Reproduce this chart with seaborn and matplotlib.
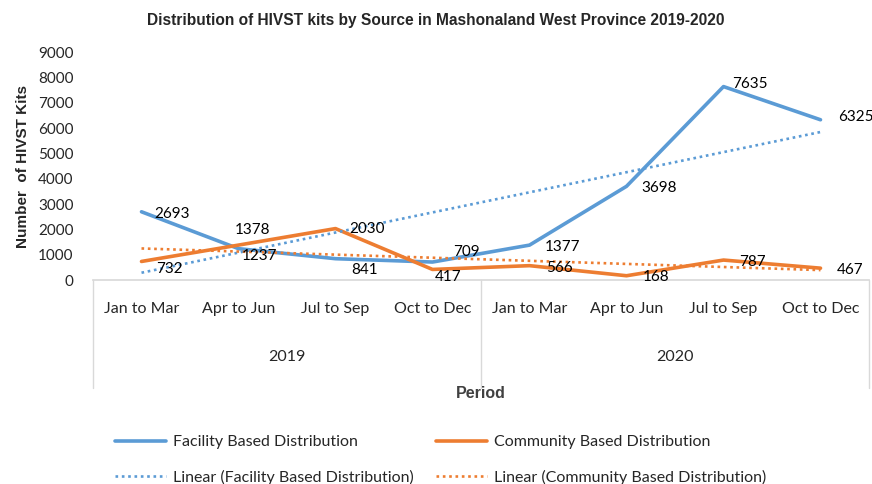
import numpy as np
import matplotlib.pyplot as plt
import seaborn as sns
from matplotlib.lines import Line2D

# ------------------------------------------------------------------
# Data
# ------------------------------------------------------------------
quarters = ["Jan to Mar", "Apr to Jun", "Jul to Sep", "Oct to Dec",
            "Jan to Mar", "Apr to Jun", "Jul to Sep", "Oct to Dec"]
years = ["2019", "2020"]
facility = [2693, 1237, 841, 709, 1377, 3698, 7635, 6325]
community = [732, 1378, 2030, 417, 566, 168, 787, 467]

# label offsets in pixels (layout only)
fac_offsets = [(31, -2), (21, -7), (29, -11), (34, 10), (33, -2), (33, -2), (26, 3), (35, 3)]
com_offsets = [(28, -8), (14, 15), (32, 0), (16, -8), (30, -2), (30, -1), (29, -2), (30, -2)]

BLUE = "#5B9BD5"
ORANGE = "#ED7D31"
GRID = "#D9D9D9"

sns.set_theme(style="white")
plt.rcParams["font.family"] = ["Lato", "DejaVu Sans"]

fig = plt.figure(figsize=(8.72, 4.84), dpi=100)
ax = fig.add_axes([93 / 872, 1 - 280 / 484, 776 / 872, 228 / 484])

x = np.arange(len(quarters))
sns.lineplot(x=x, y=facility, ax=ax, color=BLUE, linewidth=2.6, label="Facility Based Distribution")
sns.lineplot(x=x, y=community, ax=ax, color=ORANGE, linewidth=2.6, label="Community Based Distribution")

# Excel-style linear trendlines
fac_fit = np.polyval(np.polyfit(x, facility, 1), x)
com_fit = np.polyval(np.polyfit(x, community, 1), x)
ax.plot(x, fac_fit, color=BLUE, linewidth=1.9, linestyle=(0, (1, 1.4)),
        label="Linear (Facility Based Distribution)")
ax.plot(x, com_fit, color=ORANGE, linewidth=1.9, linestyle=(0, (1, 1.4)),
        label="Linear (Community Based Distribution)")

# data labels
for xi, v, off in zip(x, facility, fac_offsets):
    ax.annotate(str(v), (xi, v), xytext=off, textcoords="offset pixels",
                ha="center", va="center", fontsize=11, color="black")
for xi, v, off in zip(x, community, com_offsets):
    ax.annotate(str(v), (xi, v), xytext=off, textcoords="offset pixels",
                ha="center", va="center", fontsize=11, color="black")

ax.set_xlim(-0.5, 7.5)
ax.set_ylim(0, 9000)
ax.set_yticks(range(0, 9001, 1000))
ax.tick_params(axis="y", labelsize=11, length=0, pad=14)
ax.set_xticks([])
for s in ["left", "top", "right"]:
    ax.spines[s].set_visible(False)
ax.spines["bottom"].set_color(GRID)
ax.set_ylabel("Number  of HIVST Kits", fontsize=11, fontweight="bold",
              family=["Liberation Sans"], labelpad=6)

# two-level category axis
trans = ax.get_xaxis_transform()
for xi, q in zip(x, quarters):
    ax.text(xi, -29 / 228, q, transform=trans, ha="center", va="center", fontsize=11.5)
for i, yr in enumerate(years):
    ax.text(1.5 + 4 * i, -77 / 228, yr, transform=trans, ha="center", va="center", fontsize=11.5)
for xb in [-0.5, 3.5, 7.5]:
    ax.add_line(Line2D([xb, xb], [0, -108 / 228], transform=trans, color=GRID,
                       linewidth=1, clip_on=False))

ax.text(3.5, -114 / 228, "Period", transform=trans, ha="center", va="center",
        fontsize=11.5, fontweight="bold", family=["Liberation Sans"], color="#404040")

fig.text(436 / 872, 1 - 20 / 484,
         "Distribution of HIVST kits by Source in Mashonaland West Province 2019-2020",
         ha="center", va="center", fontsize=11.2, fontweight="bold", family=["Liberation Sans"])

handles, labels = ax.get_legend_handles_labels()
ax.get_legend().remove()
order = [0, 2, 1, 3]
fig.legend([handles[i] for i in order], [labels[i] for i in order],
           loc="center left", bbox_to_anchor=(115 / 872, 1 - 460 / 484), ncol=2, frameon=False,
           fontsize=11.5, handlelength=3.2, handletextpad=0.45, columnspacing=1.35,
           labelspacing=1.3, borderpad=0, borderaxespad=0)

fig.savefig("out.png", dpi=100)
